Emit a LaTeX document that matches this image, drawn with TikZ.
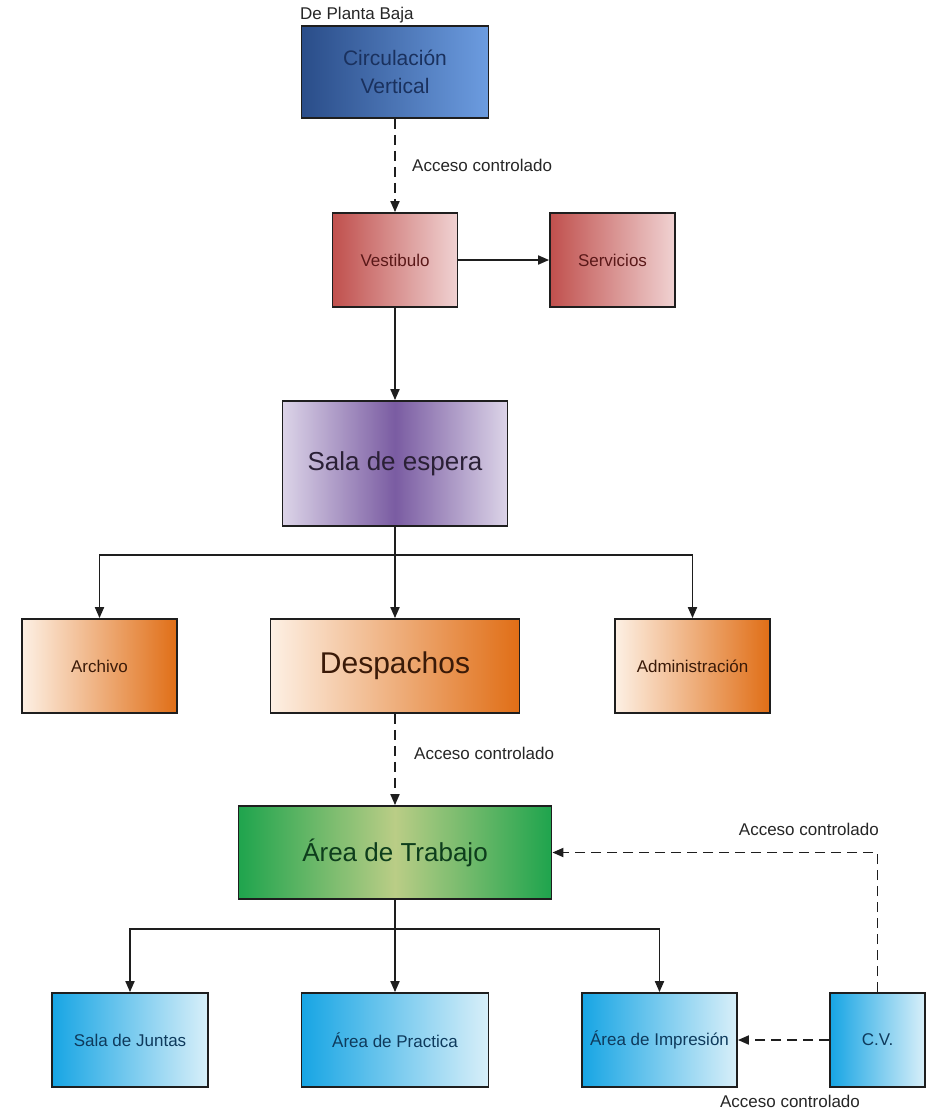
\documentclass[tikz,border=0pt]{standalone}
\usepackage{fontspec}
\setmainfont{Liberation Sans}
\usetikzlibrary{arrows.meta}
\definecolor{lineC}{HTML}{1E1E1E}
\tikzset{
  boxbase/.style={draw=lineC, line width=1.8pt, inner sep=0pt, align=center, font=\fontsize{17}{20}\selectfont},
  bluedark/.style={boxbase, left color=blueL, right color=blueR, text=blueT},
  redbox/.style={boxbase, left color=redL, right color=redR, text=redT},
  purplebox/.style={boxbase, left color=purE, right color=purE, middle color=purM, text=purT},
  orangebox/.style={boxbase, left color=oraL, right color=oraR, text=oraT},
  greenbox/.style={boxbase, left color=grnE, right color=grnE, middle color=grnM, text=grnT},
  cyanbox/.style={boxbase, left color=cyaL, right color=cyaR, text=cyaT},
  conn/.style={draw=lineC, line width=1.8pt, -{Triangle[length=11pt,width=9pt]}},
  dconn/.style={conn, dash pattern=on 10pt off 6pt},
  lbl/.style={font=\fontsize{17}{20}\selectfont, text=black!85, inner sep=0pt}
}
\definecolor{blueL}{HTML}{2A4D89}
\definecolor{blueR}{HTML}{6C9CE0}
\definecolor{blueT}{HTML}{1A315E}
\definecolor{redL}{HTML}{C0504D}
\definecolor{redR}{HTML}{F0D2D2}
\definecolor{redT}{HTML}{5A1818}
\definecolor{purE}{HTML}{DCD4E8}
\definecolor{purM}{HTML}{7A5CA2}
\definecolor{purT}{HTML}{2A2036}
\definecolor{oraL}{HTML}{FDF0E4}
\definecolor{oraR}{HTML}{E06E16}
\definecolor{oraT}{HTML}{3A1A08}
\definecolor{grnE}{HTML}{1FA44D}
\definecolor{grnM}{HTML}{BACD86}
\definecolor{grnT}{HTML}{0D3D1C}
\definecolor{cyaL}{HTML}{17A5E4}
\definecolor{cyaR}{HTML}{D8EFF9}
\definecolor{cyaT}{HTML}{0E3A5C}
\begin{document}
\begin{tikzpicture}[x=1pt,y=-1pt]
\useasboundingbox[fill=white] (0,0) rectangle (930,1112);
% nodes
\node[bluedark, minimum width=187pt, minimum height=92pt, font=\fontsize{21}{28}\selectfont] (circ) at (395,72) {Circulación\\Vertical};
\node[lbl, anchor=west] (deplanta) at (300,15) {De Planta Baja};
\node[redbox, minimum width=125pt, minimum height=94pt] (vest) at (395,260) {Vestibulo};
\node[redbox, minimum width=125pt, minimum height=94pt] (serv) at (612.5,260) {Servicios};
\node[purplebox, minimum width=225pt, minimum height=125pt, font=\fontsize{26}{30}\selectfont] (sala) at (395,463.5) {Sala de espera};
\node[orangebox, minimum width=155pt, minimum height=94pt] (arch) at (99.5,666) {Archivo};
\node[orangebox, minimum width=249pt, minimum height=94pt, font=\fontsize{30}{34}\selectfont] (desp) at (395,666) {Despachos};
\node[orangebox, minimum width=155pt, minimum height=94pt] (adm) at (692.5,666) {Administración};
\node[greenbox, minimum width=313pt, minimum height=93pt, font=\fontsize{26}{30}\selectfont] (area) at (395,852.5) {Área de Trabajo};
\node[cyanbox, minimum width=156pt, minimum height=94pt] (sj) at (130,1040) {Sala de Juntas};
\node[cyanbox, minimum width=187pt, minimum height=94pt] (ap) at (395,1040) {Área de Practica};
\node[cyanbox, minimum width=155pt, minimum height=94pt] (ai) at (659.5,1040) {Área de Impresión};
\node[cyanbox, minimum width=95pt, minimum height=94pt] (cv) at (877.5,1040) {C.V.};
% labels
\node[lbl, anchor=west] (l1) at (412,165) {Acceso controlado};
\node[lbl, anchor=west] (l2) at (414,753) {Acceso controlado};
\node[lbl, anchor=east] (l3) at (879,829) {Acceso controlado};
\node[lbl] (l4) at (790,1101) {Acceso controlado};
% connectors
\draw[dconn] (circ.south) -- (vest.north);
\draw[conn] (vest.east) -- (serv.west);
\draw[conn] (vest.south) -- (sala.north);
\coordinate (sj1) at (395,555);
\draw[conn] (sala.south) -- (sj1) -| (arch.north);
\draw[conn] (sj1) -| (adm.north);
\draw[conn] (sala.south) -- (desp.north);
\draw[dconn] (desp.south) -- (area.north);
\coordinate (sj2) at (395,929);
\draw[conn] (area.south) -- (sj2) -| (sj.north);
\draw[conn] (sj2) -| (ai.north);
\draw[conn] (area.south) -- (ap.north);
\draw[dconn] (cv.north) |- (area.east);
\draw[dconn] (cv.west) -- (ai.east);
\end{tikzpicture}
\end{document}
